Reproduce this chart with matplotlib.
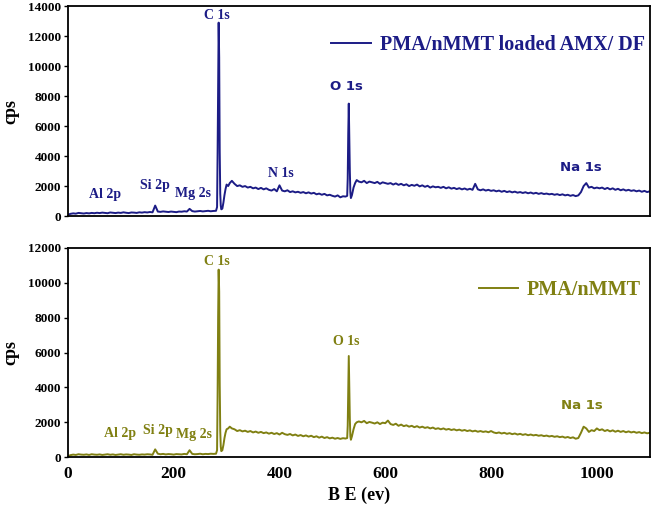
import numpy as np
import matplotlib
matplotlib.use("Agg")
import matplotlib.pyplot as plt

# ---- top spectrum: PMA/nMMT loaded AMX/ DF ----
top_a = [90, 150, 180, 160, 210, 190, 170, 200, 180, 210,
         190, 220, 200, 230, 210, 190, 240, 220, 200, 230,
         210, 250, 220, 200, 240, 230, 210, 250, 230, 260,
         240, 270, 250, 700, 300, 280, 310, 290, 270, 300,
         280, 260, 300, 290, 320, 300, 480, 330, 300, 320,
         340, 310, 330, 350, 320, 340]
top_c_be = [280, 282, 283, 284, 285, 286, 287, 288, 289, 290, 292, 294, 296, 298, 300, 303, 306, 310]
top_c = [350, 600, 4200, 8600, 12900, 10600, 4300, 1500, 700, 450, 500, 900, 1400, 1800, 2100, 2000, 2200, 2350]
top_b = [2150, 2000, 2050, 1950, 2000, 1900, 1950, 1850, 1900, 1800,
         1880, 1780, 1850, 1750, 1700, 1800, 1650, 2050, 1700, 1650,
         1720, 1600, 1650, 1580, 1620, 1550, 1600, 1520, 1580, 1500,
         1550, 1450, 1500, 1420, 1480, 1380, 1420, 1350, 1300, 1380,
         1250, 1320, 1300]
top_o_be = [528, 529, 530, 531, 532, 533, 534, 535, 537, 540, 543, 546]
top_o = [1350, 2500, 5500, 7500, 5200, 3000, 1600, 1200, 1400, 1900, 2200, 2400]
top_d = [2300, 2250, 2350, 2200, 2300, 2250, 2200, 2280, 2150, 2250, 2200,
         2150, 2200, 2100, 2180, 2080, 2150, 2050, 2120, 2000, 2080,
         2020, 2100, 1980, 2050, 1950, 2020, 1900, 1980, 1920, 1950,
         1880, 1950, 1850, 1920, 1830, 1880, 1800, 1860, 1780, 1840,
         1760, 1820, 1750, 2150, 1780, 1720, 1780, 1700, 1750, 1680,
         1720, 1650, 1700, 1620, 1680, 1600, 1650, 1580, 1630, 1560,
         1600, 1540, 1590, 1520, 1570, 1500, 1550, 1480, 1530, 1470,
         1500, 1450, 1480, 1420, 1460, 1400, 1450, 1380, 1420, 1350,
         1400, 1330, 1380, 1600, 2000, 2200, 1900, 1950, 1850, 1900,
         1850, 1900, 1800, 1880, 1780, 1850, 1750, 1820, 1720, 1780,
         1700, 1750, 1680, 1720, 1650, 1700, 1620, 1680, 1600, 1650]

# ---- bottom spectrum: PMA/nMMT ----
bot_a = [60, 120, 150, 130, 170, 150, 140, 160, 130, 170,
         150, 140, 160, 130, 150, 170, 140, 160, 130, 150,
         170, 140, 160, 150, 130, 170, 150, 140, 160, 150,
         170, 160, 140, 450, 200, 170, 190, 160, 180, 170,
         150, 180, 170, 160, 190, 170, 400, 190, 170, 180,
         200, 170, 190, 180, 200, 190]
bot_c_be = [280, 282, 283, 284, 285, 286, 287, 288, 289, 290, 292, 294, 296, 298, 300, 303, 306, 310]
bot_c = [200, 400, 3500, 8000, 10750, 9500, 4200, 1500, 600, 350, 400, 700, 1100, 1400, 1600, 1650, 1750, 1650]
bot_b = [1600, 1500, 1550, 1480, 1520, 1450, 1500, 1420, 1470, 1400,
         1450, 1380, 1420, 1350, 1400, 1330, 1380, 1300, 1400, 1320,
         1280, 1330, 1250, 1300, 1220, 1270, 1200, 1250, 1180, 1230,
         1150, 1200, 1120, 1180, 1100, 1150, 1080, 1120, 1060, 1100,
         1050, 1090, 1070]
bot_o_be = [528, 529, 530, 531, 532, 533, 534, 535, 537, 540, 543, 546]
bot_o = [1100, 1800, 4000, 5800, 4000, 2200, 1200, 1000, 1200, 1600, 1900, 2000]
bot_d = [2050, 2000, 2080, 1950, 2020, 1980, 1930, 2000, 1900, 1980, 1950,
         2100, 1900, 1850, 1920, 1800, 1870, 1780, 1830, 1750, 1800,
         1720, 1780, 1700, 1750, 1680, 1720, 1650, 1700, 1620, 1660,
         1600, 1650, 1580, 1620, 1560, 1600, 1540, 1580, 1520, 1560,
         1500, 1540, 1480, 1520, 1460, 1500, 1450, 1480, 1430, 1500,
         1420, 1380, 1420, 1360, 1400, 1340, 1380, 1320, 1360, 1300,
         1340, 1280, 1320, 1260, 1300, 1250, 1280, 1230, 1260, 1210,
         1240, 1190, 1220, 1170, 1200, 1150, 1180, 1120, 1160, 1100,
         1140, 1060, 1100, 1400, 1750, 1650, 1450, 1550, 1500, 1650,
         1550, 1600, 1500, 1560, 1480, 1540, 1460, 1520, 1450, 1500,
         1430, 1480, 1420, 1460, 1400, 1440, 1380, 1420, 1370, 1400]

# peak labels: (text, x, y, sans?)
top_labels = [("C 1s", 282, 13400, False), ("N 1s", 403, 2850, False),
              ("O 1s", 527, 8650, True), ("Na 1s", 970, 3250, True),
              ("Al 2p", 70, 1450, False), ("Si 2p", 164, 2050, False),
              ("Mg 2s", 237, 1500, False)]
bot_labels = [("C 1s", 282, 11200, False), ("O 1s", 527, 6650, False),
              ("Na 1s", 972, 2950, True), ("Al 2p", 98, 1350, False),
              ("Si 2p", 170, 1520, False), ("Mg 2s", 239, 1300, False)]

be_a = np.arange(0, 280, 5)
be_b = np.arange(315, 530, 5)
be_d = np.arange(550, 1105, 5)


def join(a, cbe, c, b, obe, o, d):
    x = np.concatenate([be_a, cbe, be_b, obe, be_d])
    y = np.concatenate([a, c, b, o, d])
    return x, y


plt.rcParams['font.family'] = ['Liberation Serif', 'DejaVu Serif']
plt.rcParams['font.weight'] = 'bold'

fig = plt.figure(figsize=(6.53, 5.12), dpi=100)
ax1 = fig.add_axes([0.104, 0.578, 0.891, 0.410])
ax2 = fig.add_axes([0.104, 0.107, 0.891, 0.409])

specs = [
    (ax1, join(top_a, top_c_be, top_c, top_b, top_o_be, top_o, top_d), '#1c1c86',
     'PMA/nMMT loaded AMX/ DF', 14000, top_labels, (1.012, 0.92)),
    (ax2, join(bot_a, bot_c_be, bot_c, bot_b, bot_o_be, bot_o, bot_d), '#808012',
     'PMA/nMMT', 12000, bot_labels, (1.006, 0.905)),
]

for ax, (x, y), col, name, ymax, labels, anchor in specs:
    ax.plot(x, y, color=col, lw=1.4, label=name)
    ax.set_xlim(0, 1100)
    ax.set_ylim(0, ymax)
    ax.set_yticks(np.arange(0, ymax + 1, 2000))
    ax.tick_params(axis='y', direction='out', length=3, width=1, labelsize=9.5, pad=2)
    ax.tick_params(axis='x', length=0, labelsize=12.5, pad=6)
    for lab in ax.get_yticklabels() + ax.get_xticklabels():
        lab.set_fontweight('bold')
    for s in ax.spines.values():
        s.set_linewidth(1.3)
    ax.set_ylabel('cps', fontsize=13, fontweight='bold', labelpad=6)
    for txt, lx, ly, sans in labels:
        ax.text(lx, ly, txt, color=col, ha='center', va='center',
                fontsize=10 if not sans else 9.5, fontweight='bold',
                family='DejaVu Sans' if sans else 'Liberation Serif')
    leg = ax.legend(loc='upper right', frameon=False,
                    prop={'weight': 'bold', 'size': 14.5},
                    handlelength=1.95, handletextpad=0.45, borderaxespad=0.2,
                    bbox_to_anchor=anchor)
    for t in leg.get_texts():
        t.set_color(col)

ax1.set_xticklabels([])
ax2.set_xticks([0, 200, 400, 600, 800, 1000])
ax2.set_xlabel('B E (ev)', fontsize=13, fontweight='bold', labelpad=4)

fig.savefig('out.png', dpi=100)
